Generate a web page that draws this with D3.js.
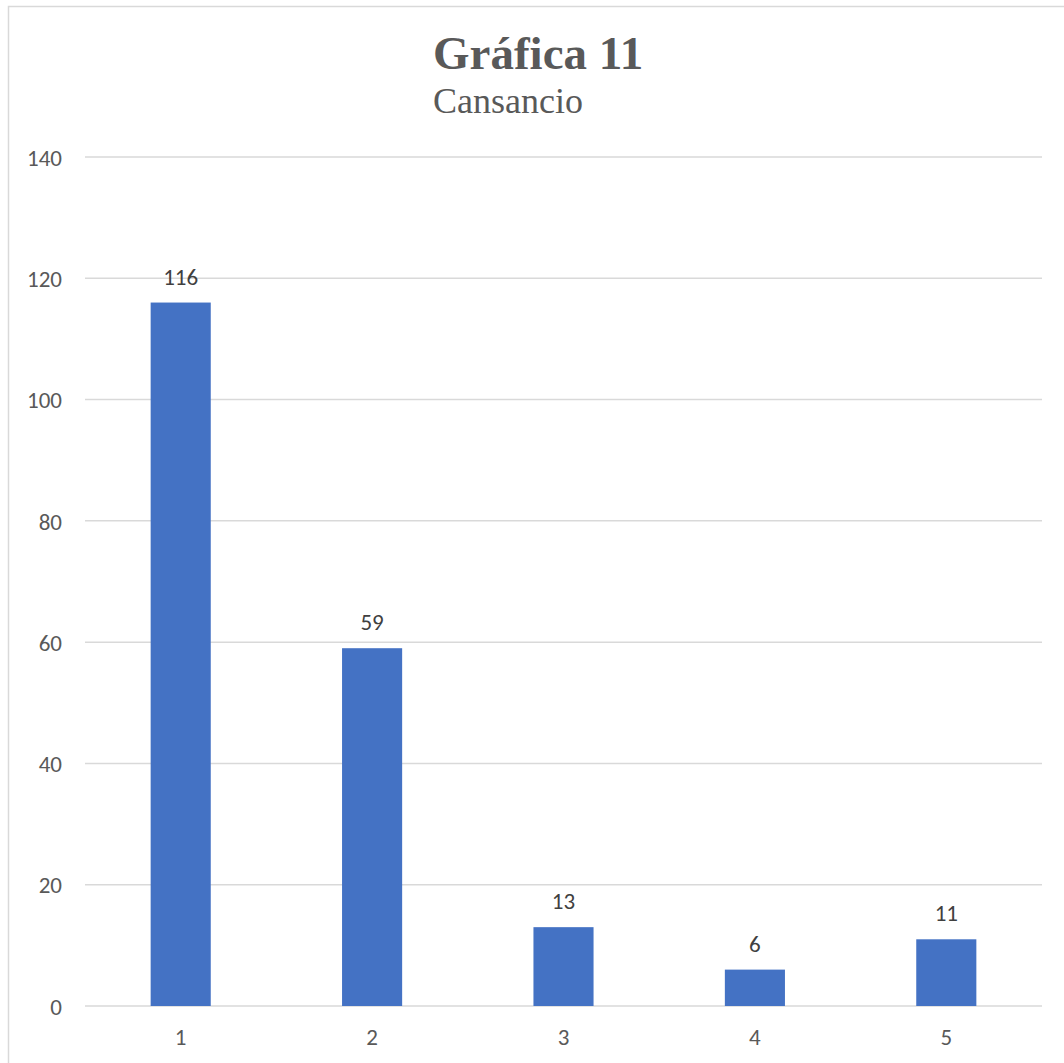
<!DOCTYPE html>
<html>
<head>
<meta charset="utf-8">
<script src="https://cdn.jsdelivr.net/npm/d3@7"></script>
<style>
  body { margin: 0; background: #fff; }
  text { font-family: Carlito, Lato, "Open Sans", sans-serif; }
</style>
</head>
<body>
<svg></svg>
<script>
const width = 1064;
const height = 1063;

// data
const categories = ["1", "2", "3", "4", "5"];
const values = [116, 59, 13, 6, 11];
const yTicks = [0, 20, 40, 60, 80, 100, 120, 140];

const svg = d3.select("svg")
  .attr("width", width)
  .attr("height", height);

// chart frame (runs off the right/bottom edge)
svg.append("rect")
  .attr("x", 8.5).attr("y", 6.5)
  .attr("width", 1100).attr("height", 1100)
  .attr("fill", "#fff")
  .attr("stroke", "#d9d9d9")
  .attr("stroke-width", 1.5);

const x = d3.scaleBand()
  .domain(categories)
  .range([85, 1042])
  .paddingInner(0.686)
  .paddingOuter(0.343);

const y = d3.scaleLinear()
  .domain([0, 140])
  .range([1006, 157]);

// gridlines
svg.append("g")
  .selectAll("line")
  .data(yTicks)
  .enter().append("line")
  .attr("x1", 85).attr("x2", 1042)
  .attr("y1", d => y(d)).attr("y2", d => y(d))
  .attr("stroke", "#d9d9d9")
  .attr("stroke-width", 1.5);

// y axis labels
const yAxis = svg.append("g")
  .attr("transform", "translate(62,0)")
  .call(d3.axisLeft(y).tickValues(yTicks).tickSize(0).tickPadding(0));
yAxis.select(".domain").remove();
yAxis.selectAll("text")
  .attr("fill", "#595959")
  .attr("dy", "0.36em")
  .style("font-size", "23px")
  .style("font-family", "Carlito, Lato, 'Open Sans', sans-serif");

// x axis labels
const xAxis = svg.append("g")
  .attr("transform", "translate(0,1006)")
  .call(d3.axisBottom(x).tickSize(0));
xAxis.select(".domain").remove();
xAxis.selectAll("text")
  .attr("fill", "#595959")
  .attr("y", 39)
  .attr("dy", 0)
  .style("font-size", "23px")
  .style("font-family", "Carlito, Lato, 'Open Sans', sans-serif");

// bars
svg.append("g")
  .selectAll("rect")
  .data(values)
  .enter().append("rect")
  .attr("x", (d, i) => x(categories[i]))
  .attr("width", x.bandwidth())
  .attr("y", d => y(d))
  .attr("height", d => y(0) - y(d))
  .attr("fill", "#4472c4");

// data labels
svg.append("g")
  .selectAll("text")
  .data(values)
  .enter().append("text")
  .attr("x", (d, i) => x(categories[i]) + x.bandwidth() / 2)
  .attr("y", d => y(d) - 18)
  .attr("text-anchor", "middle")
  .attr("fill", "#404040")
  .style("font-size", "23px")
  .text(d => d);

// title
svg.append("text")
  .attr("x", 433).attr("y", 69)
  .attr("fill", "#595959")
  .style("font-family", "'Liberation Serif', 'Times New Roman', serif")
  .style("font-weight", "bold")
  .style("font-size", "47px")
  .text("Gráfica 11");

svg.append("text")
  .attr("x", 433).attr("y", 113)
  .attr("fill", "#595959")
  .style("font-family", "'Liberation Serif', 'Times New Roman', serif")
  .style("font-size", "36px")
  .text("Cansancio");
</script>
</body>
</html>
